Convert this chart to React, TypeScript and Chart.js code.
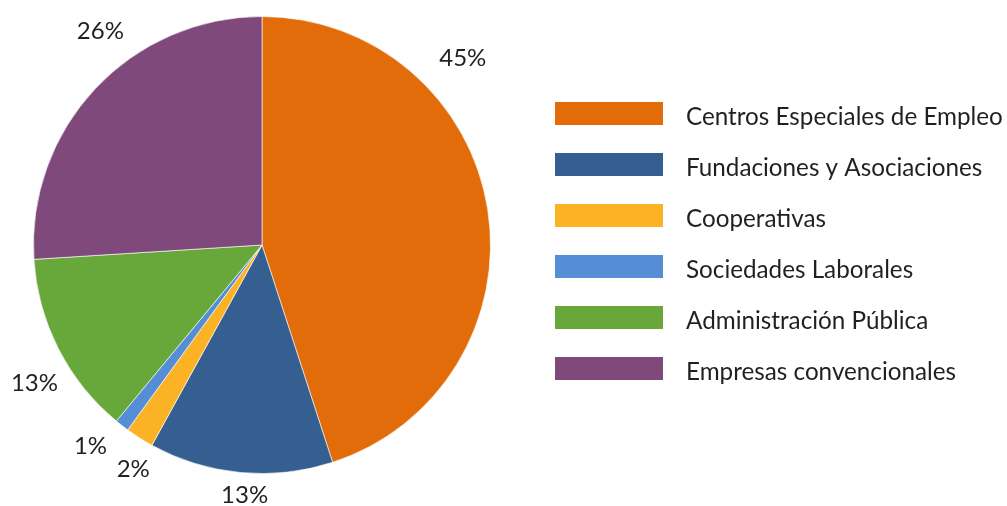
import React, { useEffect, useRef } from "react";
import { Chart, registerables } from "chart.js";

Chart.register(...registerables);

const categories = [
  "Centros Especiales de Empleo",
  "Fundaciones y Asociaciones",
  "Cooperativas",
  "Sociedades Laborales",
  "Administración Pública",
  "Empresas convencionales",
];
const values = [45, 13, 2, 1, 13, 26];
const percentLabels = ["45%", "13%", "2%", "1%", "13%", "26%"];
const colors = ["#E36C0A", "#355F91", "#FBB225", "#558ED5", "#68A83B", "#7F4A7B"];
// label placement tweaks (degrees shift from slice middle, px beyond the rim)
const labelAngleShift = [-34, -1.4, -2.4, 2.8, -4.2, 9.8];
const labelRadialOffset = [46, 21, 29, 35, 37.5, 40];

const FONT = "Lato, 'Noto Sans', sans-serif";
const TEXT_COLOR = "#231F20";

const labelPlugin = {
  id: "outsideLabels",
  afterDatasetsDraw(chart: any) {
    const ctx = chart.ctx;
    const meta = chart.getDatasetMeta(0);
    ctx.save();
    const fs = 24;
    ctx.font = `${fs}px ${FONT}`;
    ctx.fillStyle = TEXT_COLOR;
    ctx.textAlign = "center";
    ctx.textBaseline = "alphabetic";
    meta.data.forEach((arc: any, i: number) => {
      const p = arc.getProps(["x", "y", "startAngle", "endAngle", "outerRadius"], true);
      const mid = (p.startAngle + p.endAngle) / 2 + (labelAngleShift[i] * Math.PI) / 180;
      const d = p.outerRadius + labelRadialOffset[i];
      const cx = p.x + Math.cos(mid) * d;
      const cy = p.y + Math.sin(mid) * d;
      ctx.fillText(percentLabels[i], cx, cy + fs * 0.36);
    });
    ctx.restore();
  },
};

const legendPlugin = {
  id: "customLegend",
  afterDraw(chart: any) {
    const ctx = chart.ctx;
    const labels = chart.data.labels as string[];
    const bg = chart.data.datasets[0].backgroundColor as string[];
    ctx.save();
    // fit font so first label spans target width
    ctx.font = `100px ${FONT}`;
    const w100 = ctx.measureText(labels[0]).width;
    const fs = Math.min(26, (317 / w100) * 100);
    ctx.font = `${fs}px ${FONT}`;
    ctx.textAlign = "left";
    ctx.textBaseline = "alphabetic";
    const boxX = 555;
    const boxW = 108;
    const boxH = 23;
    const top = 102;
    const step = 51;
    labels.forEach((lab, i) => {
      const y = top + i * step;
      ctx.fillStyle = bg[i];
      ctx.fillRect(boxX, y, boxW, boxH);
      ctx.fillStyle = TEXT_COLOR;
      ctx.fillText(lab, 686, y + 22.5);
    });
    ctx.restore();
  },
};

export default function App() {
  const ref = useRef<HTMLCanvasElement | null>(null);
  useEffect(() => {
    document.body.style.margin = "0";
    if (!ref.current) return;
    const chart = new Chart(ref.current, {
      type: "pie",
      data: {
        labels: categories,
        datasets: [
          {
            data: values,
            backgroundColor: colors,
            borderColor: "rgba(255,255,255,0.6)",
            borderWidth: 1,
          },
        ],
      },
      options: {
        animation: false,
        responsive: false,
        maintainAspectRatio: false,
        layout: { padding: { left: 33, top: 16, right: 516, bottom: 32 } },
        plugins: {
          legend: { display: false },
          tooltip: { enabled: false },
        },
      },
      plugins: [labelPlugin, legendPlugin],
    });
    return () => chart.destroy();
  }, []);
  return (
    <div style={{ position: "absolute", left: 0, top: 0, width: 1007, height: 506, background: "#fff" }}>
      <canvas ref={ref} width={1007} height={506} style={{ width: 1007, height: 506, display: "block" }} />
    </div>
  );
}
